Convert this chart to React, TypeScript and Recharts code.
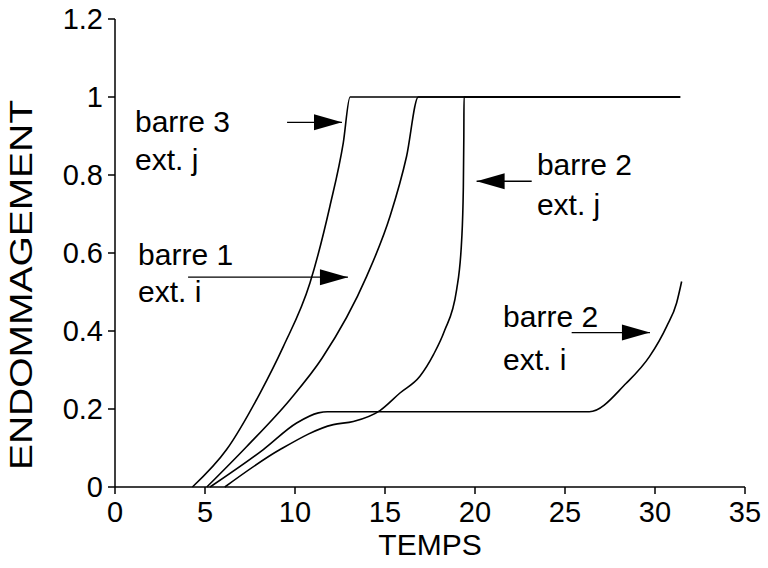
import { LineChart, Line, XAxis, YAxis, ReferenceLine, ReferenceDot, Label } from 'recharts'

// axes
const timeTicks = [0, 5, 10, 15, 20, 25, 30, 35]
const damageTicks = [0, 0.2, 0.4, 0.6, 0.8, 1, 1.2]

// barre 3, ext. j
const b3jTime = [4.3, 6.2, 8.06, 9.35, 10.83, 11.94, 12.68, 13.06, 31.4]
const b3jDamage = [0, 0.096, 0.241, 0.36, 0.523, 0.72, 0.882, 1, 1]

// barre 1, ext. i
const b1iTime = [5.1, 7.32, 9.72, 11.5, 13.98, 15.28, 16.2, 16.85, 31.4]
const b1iDamage = [0, 0.104, 0.224, 0.33, 0.54, 0.694, 0.848, 1, 1]

// barre 2, ext. j
const b2jTime = [6.1, 9.17, 12.13, 13.24, 14.72, 15.83, 16.94, 17.7, 18.3, 18.98, 19.26, 19.35, 19.38, 19.39, 31.4]
const b2jDamage = [0, 0.096, 0.16, 0.168, 0.196, 0.241, 0.284, 0.34, 0.4, 0.506, 0.634, 0.762, 0.9, 1, 1]

// barre 2, ext. i
const b2iTime = [5.28, 8.24, 10.09, 11.3, 11.8, 26.35, 28.4, 29.7, 30.65, 31.2, 31.48]
const b2iDamage = [0, 0.096, 0.164, 0.19, 0.193, 0.193, 0.266, 0.335, 0.412, 0.472, 0.527]

// annotations (data coords)
const noteText = ['barre 3', 'ext. j', 'barre 1', 'ext. i', 'barre 2', 'ext. j', 'barre 2', 'ext. i']
const noteTime = [1.11, 1.11, 1.28, 1.28, 23.44, 23.44, 21.56, 21.56]
const noteDamage = [0.911, 0.814, 0.57, 0.475, 0.801, 0.698, 0.411, 0.301]

const arrowFrom = [9.56, 4.06, 23.15, 25.37]
const arrowTo = [12.61, 12.94, 20.09, 29.72]
const arrowDamage = [0.935, 0.538, 0.784, 0.396]

const toPoints = (t: number[], d: number[]) => t.map((x, i) => ({ t: x, d: d[i] }))

const series = [
  toPoints(b3jTime, b3jDamage),
  toPoints(b1iTime, b1iDamage),
  toPoints(b2jTime, b2jDamage),
  toPoints(b2iTime, b2iDamage),
]

const font = "'Liberation Sans', Arial, Helvetica, sans-serif"

export default function App() {
  return (
    <div style={{ position: 'absolute', left: 0, top: 0, background: '#fff', fontFamily: font }}>
      <LineChart width={768} height={568} margin={{ top: 19, right: 23, bottom: 0, left: 0 }}>
        <XAxis
          dataKey='t'
          type='number'
          domain={[0, 35]}
          ticks={timeTicks}
          allowDataOverflow
          height={81}
          stroke='#000'
          strokeWidth={1.5}
          tickSize={7}
          tickMargin={7}
          tick={{ fontSize: 29, fill: '#000' }}
        >
          <Label value='TEMPS' position='insideBottom' offset={13} style={{ fontSize: 30, fill: '#000' }} />
        </XAxis>
        <XAxis xAxisId='top' orientation='top' type='number' domain={[0, 35]} height={0} tick={false} stroke='#000' strokeWidth={1.5} />
        <YAxis
          type='number'
          domain={[0, 1.2]}
          ticks={damageTicks}
          width={115}
          stroke='#000'
          strokeWidth={1.5}
          tickSize={7}
          tickMargin={5}
          tick={{ fontSize: 29, fill: '#000' }}
          label={{
            content: () => (
              <text
                x={32}
                y={285}
                transform='rotate(-90 32 285)'
                textAnchor='middle'
                fontSize={31}
                fill='#000'
                textLength={370}
                lengthAdjust='spacingAndGlyphs'
              >
                ENDOMMAGEMENT
              </text>
            ),
          }}
        />
        <YAxis
          yAxisId='right'
          orientation='right'
          type='number'
          domain={[0, 1.2]}
          ticks={damageTicks}
          width={0}
          mirror
          tickSize={5}
          tickFormatter={() => ''}
          stroke='#000'
          strokeWidth={1.5}
        />
        {series.map((pts, i) => (
          <Line
            key={i}
            data={pts}
            dataKey='d'
            type='monotone'
            stroke='#000'
            strokeWidth={1.6}
            dot={false}
            isAnimationActive={false}
          />
        ))}
        {arrowFrom.map((x1, i) => (
          <ReferenceLine
            key={'a' + i}
            segment={[
              { x: x1, y: arrowDamage[i] },
              { x: arrowTo[i], y: arrowDamage[i] },
            ]}
            stroke='#000'
            strokeWidth={1.3}
          />
        ))}
        {arrowTo.map((x2, i) => (
          <ReferenceDot
            key={'h' + i}
            x={x2}
            y={arrowDamage[i]}
            shape={(p: any) => {
              const dir = x2 > arrowFrom[i] ? 1 : -1
              const bx = p.cx - dir * 28
              return <polygon points={`${p.cx},${p.cy} ${bx},${p.cy - 8} ${bx},${p.cy + 8}`} fill='#000' />
            }}
          />
        ))}
        {noteText.map((txt, i) => (
          <ReferenceDot
            key={'n' + i}
            x={noteTime[i]}
            y={noteDamage[i]}
            ifOverflow='visible'
            shape={(p: any) => (
              <text x={p.cx} y={p.cy} fontSize={30} fill='#000'>
                {txt}
              </text>
            )}
          />
        ))}
      </LineChart>
    </div>
  )
}
